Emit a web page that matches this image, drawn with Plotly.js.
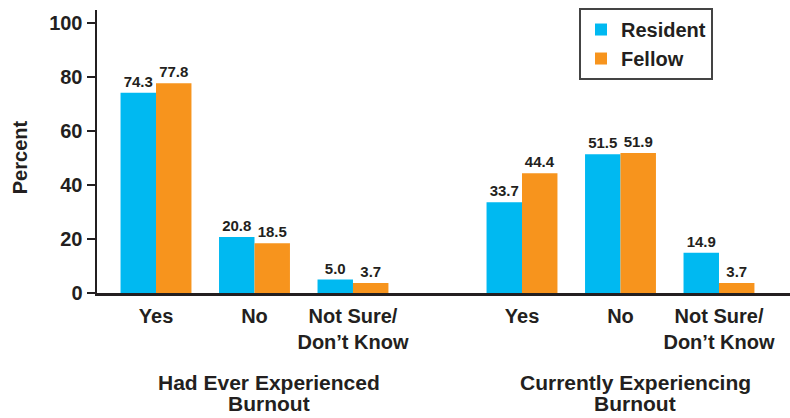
<!DOCTYPE html>
<html>
<head>
<meta charset="utf-8">
<script src="https://cdn.plot.ly/plotly-3.0.1.min.js"></script>
<style>
  html, body { margin: 0; padding: 0; background: #fff; }
  #chart { width: 790px; height: 418px; }
</style>
</head>
<body>
<div id="chart"></div>
<script>
// Answer categories, repeated for each question group
const answers = ["Yes", "No", "Not Sure/<br>Don\u2019t Know"];
// Group titles, one entry per line
const groupLines = [
  ["Had Ever Experienced", "Burnout"],
  ["Currently Experiencing", "Burnout"]
];

// Percent of respondents, group 1 then group 2
const residentEver = [74.3, 20.8, 5.0];
const fellowEver = [77.8, 18.5, 3.7];
const residentNow = [33.7, 51.5, 14.9];
const fellowNow = [44.4, 51.9, 3.7];

const ink = "#231f20";
const groupGap = 0.716;   // extra space between the two question groups

// x slot for each bar pair: three answers per group, groups separated by a gap
const xs = [];
const ticktext = [];
for (let g = 0; g < 2; g++) {
  for (let i = 0; i < answers.length; i++) {
    xs.push(g * (answers.length + groupGap) + i);
    ticktext.push(answers[i]);
  }
}

const resident = residentEver.concat(residentNow);
const fellow = fellowEver.concat(fellowNow);

const barCommon = {
  type: "bar",
  x: xs,
  texttemplate: "%{y:.1f}",
  textposition: "outside",
  textfont: { size: 15, color: ink, weight: "bold" },
  cliponaxis: false,
  hoverinfo: "skip"
};

const data = [
  Object.assign({}, barCommon, { name: "Resident", y: resident, marker: { color: "#00b9f1" } }),
  Object.assign({}, barCommon, { name: "Fellow", y: fellow, marker: { color: "#f7941d" } })
];

// group titles centred under each set of three answers, drawn line by line
const annotations = [];
groupLines.forEach((lines, g) => {
  lines.forEach((text, k) => {
    annotations.push({
      text: text,
      xref: "x", yref: "paper",
      x: g * (answers.length + groupGap) + 1 + 0.15,
      y: -0.318 - k * 0.071,
      xanchor: "center", yanchor: "middle",
      showarrow: false,
      font: { size: 21, color: ink, weight: "bold" }
    });
  });
});
annotations.push({
  text: "Percent",
  xref: "paper", yref: "paper",
  x: -0.111, y: 0.48,
  xanchor: "center", yanchor: "middle",
  textangle: -90,
  showarrow: false,
  font: { size: 20, color: ink, weight: "bold" }
});

const layout = {
  width: 790,
  height: 418,
  margin: { l: 97, r: 0, t: 10, b: 125 },
  paper_bgcolor: "#fff",
  plot_bgcolor: "#fff",
  font: { family: "Liberation Sans, Arial, sans-serif", color: ink, weight: "bold" },
  barmode: "group",
  bargap: 0.28,
  bargroupgap: 0,
  showlegend: true,
  legend: {
    x: 0.6955, y: 1.007,
    xanchor: "left", yanchor: "top",
    bordercolor: "#444", borderwidth: 2,
    bgcolor: "#fff",
    font: { size: 20, color: ink, weight: "bold" },
    tracegroupgap: 0,
    itemwidth: 30
  },
  xaxis: {
    range: [-0.599, 6.437],
    tickvals: xs,
    ticktext: ticktext,
    ticks: "",
    showline: true,
    linecolor: ink,
    linewidth: 2.5,
    showgrid: false,
    zeroline: false,
    tickfont: { size: 20, color: ink, weight: "bold" },
    ticklabelstandoff: 3,
    fixedrange: true
  },
  yaxis: {
    range: [0, 105],
    tickvals: [0, 20, 40, 60, 80, 100],
    ticks: "outside",
    ticklen: 8,
    tickwidth: 2,
    tickcolor: ink,
    showline: true,
    linecolor: ink,
    linewidth: 2.5,
    showgrid: false,
    zeroline: false,
    tickfont: { size: 20, color: ink, weight: "bold" },
    fixedrange: true
  },
  annotations: annotations
};

Plotly.newPlot("chart", data, layout, { displayModeBar: false, staticPlot: true });
</script>
</body>
</html>
